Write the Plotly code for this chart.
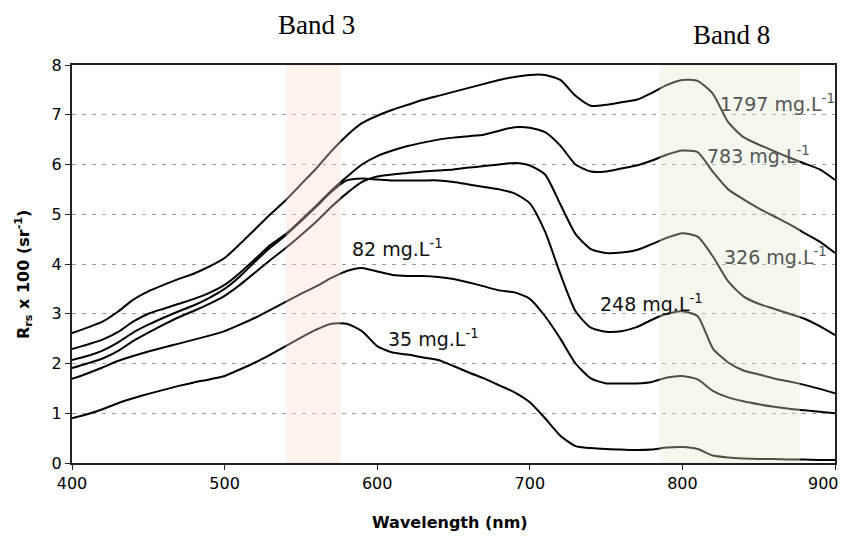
import plotly.graph_objects as go

wavelength = list(range(400, 901, 10))

c1797 = [2.61, 2.72, 2.84, 3.04, 3.28, 3.45, 3.58, 3.70, 3.81, 3.95,
         4.12, 4.40, 4.70, 5.00, 5.28, 5.60, 5.92, 6.27, 6.58, 6.83,
         6.98, 7.10, 7.20, 7.30, 7.38, 7.46, 7.54, 7.62, 7.70, 7.76,
         7.80, 7.80, 7.70, 7.38, 7.18, 7.20, 7.25, 7.30, 7.44, 7.60,
         7.70, 7.68, 7.42, 6.85, 6.55, 6.40, 6.27, 6.14, 6.02, 5.90, 5.69]
c783 = [2.29, 2.38, 2.48, 2.63, 2.84, 3.00, 3.10, 3.20, 3.30, 3.42,
        3.58, 3.82, 4.10, 4.38, 4.60, 4.88, 5.17, 5.48, 5.75, 6.00,
        6.17, 6.28, 6.37, 6.44, 6.50, 6.54, 6.57, 6.60, 6.68, 6.75,
        6.74, 6.65, 6.38, 6.00, 5.86, 5.86, 5.92, 5.98, 6.08, 6.20,
        6.28, 6.25, 5.85, 5.50, 5.30, 5.12, 4.96, 4.80, 4.62, 4.45, 4.22]
c326 = [1.91, 2.00, 2.10, 2.25, 2.45, 2.62, 2.78, 2.93, 3.06, 3.20,
        3.36, 3.58, 3.83, 4.08, 4.32, 4.58, 4.85, 5.15, 5.42, 5.65,
        5.76, 5.80, 5.83, 5.86, 5.88, 5.90, 5.94, 5.97, 6.00, 6.03,
        5.98, 5.80, 5.20, 4.60, 4.30, 4.22, 4.23, 4.28, 4.40, 4.53,
        4.62, 4.55, 4.15, 3.65, 3.35, 3.20, 3.10, 3.00, 2.90, 2.75, 2.57]
c248 = [2.07, 2.15, 2.26, 2.42, 2.62, 2.78, 2.92, 3.05, 3.17, 3.32,
        3.50, 3.75, 4.05, 4.33, 4.58, 4.86, 5.15, 5.45, 5.68, 5.72,
        5.70, 5.68, 5.68, 5.68, 5.68, 5.65, 5.60, 5.55, 5.50, 5.42,
        5.22, 4.65, 3.80, 3.05, 2.72, 2.64, 2.65, 2.73, 2.88, 3.00,
        3.05, 2.95, 2.30, 2.02, 1.86, 1.78, 1.70, 1.64, 1.57, 1.49, 1.40]
c82 = [1.69, 1.80, 1.92, 2.05, 2.15, 2.24, 2.32, 2.40, 2.48, 2.56,
       2.65, 2.78, 2.92, 3.08, 3.24, 3.40, 3.55, 3.72, 3.86, 3.92,
       3.85, 3.78, 3.76, 3.76, 3.74, 3.70, 3.63, 3.55, 3.47, 3.43,
       3.30, 2.95, 2.50, 2.00, 1.70, 1.60, 1.60, 1.60, 1.63, 1.72,
       1.75, 1.68, 1.45, 1.32, 1.24, 1.18, 1.13, 1.09, 1.06, 1.03, 1.00]
c35 = [0.90, 0.98, 1.08, 1.20, 1.30, 1.39, 1.47, 1.55, 1.62, 1.68,
       1.75, 1.88, 2.02, 2.18, 2.35, 2.52, 2.68, 2.80, 2.80, 2.65,
       2.35, 2.22, 2.18, 2.12, 2.07, 1.95, 1.82, 1.70, 1.56, 1.42,
       1.22, 0.90, 0.55, 0.34, 0.30, 0.28, 0.27, 0.26, 0.27, 0.31,
       0.32, 0.28, 0.15, 0.11, 0.09, 0.08, 0.08, 0.07, 0.07, 0.06, 0.06]

series = [c1797, c783, c326, c248, c82, c35]

x_tickvals = [400, 500, 600, 700, 800, 900]
x_ticktext = ["400", "500", "600", "700", "800", ""]   # last label drawn as annotation
last_tick_label = "900"

label_text = ["1797 mg.L<sup>-1</sup>", "783 mg.L<sup>-1</sup>", "326 mg.L<sup>-1</sup>",
              "248 mg.L<sup>-1</sup>", "82 mg.L<sup>-1</sup>", "35 mg.L<sup>-1</sup>"]
label_x = [823, 815, 826, 745, 582, 606]
label_y = [7.24, 6.19, 4.16, 3.22, 4.32, 2.51]
label_color = ["#555555", "#555555", "#555555", "#111111", "#111111", "#111111"]

band3 = [540, 576]
band8 = [785, 877]

# page has an 8px body margin on every side; keep the figure inside the window
OFF = 8
W, H = 850 - 2 * OFF, 540 - 2 * OFF
PX0, PX1, PY0, PY1 = 72, 835, 65, 463   # plot box in page pixels
ML, MR = PX0 - OFF, W - (PX1 - OFF)
MT, MB = PY0 - OFF, H - (PY1 - OFF)


def paper_x(px):
    return (px - PX0) / (PX1 - PX0)


def paper_y(py):
    return (PY1 - py) / (PY1 - PY0)


fig = go.Figure()
for ys in series:
    fig.add_trace(go.Scatter(x=wavelength, y=ys, mode="lines",
                             line=dict(color="black", width=2, shape="spline", smoothing=0.6),
                             showlegend=False, hoverinfo="skip"))

fig.add_shape(type="rect", xref="x", yref="y", x0=band3[0], x1=band3[1], y0=0, y1=8,
              fillcolor="rgb(249,221,206)", opacity=0.35, line=dict(width=0), layer="above")
fig.add_shape(type="rect", xref="x", yref="y", x0=band8[0], x1=band8[1], y0=0, y1=8,
              fillcolor="rgb(224,232,206)", opacity=0.35, line=dict(width=0), layer="above")

for t, x, y, c in zip(label_text, label_x, label_y, label_color):
    fig.add_annotation(x=x, y=y, xref="x", yref="y", text=t, showarrow=False,
                       xanchor="left", yanchor="middle",
                       font=dict(family="DejaVu Sans", size=19, color=c))

fig.add_annotation(x=paper_x(316), y=paper_y(25), xref="paper", yref="paper", text="Band 3",
                   showarrow=False, xanchor="center", yanchor="middle",
                   font=dict(family="Liberation Serif", size=27, color="black"))
fig.add_annotation(x=paper_x(731), y=paper_y(35), xref="paper", yref="paper", text="Band 8",
                   showarrow=False, xanchor="center", yanchor="middle",
                   font=dict(family="Liberation Serif", size=27, color="black"))

fig.add_annotation(x=paper_x(841), y=paper_y(483), xref="paper", yref="paper",
                   text=last_tick_label, showarrow=False,
                   xanchor="right", yanchor="middle",
                   font=dict(family="DejaVu Sans", size=16, color="black"))

fig.add_annotation(x=paper_x(450), y=paper_y(522), xref="paper", yref="paper",
                   text="<b>Wavelength (nm)</b>", showarrow=False,
                   xanchor="center", yanchor="middle",
                   font=dict(family="DejaVu Sans", size=16, color="black"))
fig.add_annotation(x=paper_x(23), y=paper_y(275), xref="paper", yref="paper",
                   text="<b>R<sub>rs</sub> x 100 (sr<sup>-1</sup>)</b>", showarrow=False,
                   textangle=-90, xanchor="center", yanchor="middle",
                   font=dict(family="DejaVu Sans", size=16, color="black"))

fig.update_layout(
    width=W, height=H,
    margin=dict(l=ML, r=MR, t=MT, b=MB, autoexpand=False),
    paper_bgcolor="white", plot_bgcolor="white",
    font=dict(family="DejaVu Sans", size=16, color="black"),
)
fig.update_xaxes(range=[400, 900], tickvals=x_tickvals, ticktext=x_ticktext,
                 showgrid=False, zeroline=False, automargin=False,
                 showline=True, linecolor="#222222", linewidth=2, mirror=True,
                 ticks="outside", ticklen=5, tickcolor="#222222",
                 tickfont=dict(size=16))
fig.update_yaxes(range=[0, 8], tickvals=list(range(0, 9)),
                 showgrid=True, gridcolor="#9a9a9a", gridwidth=1, griddash="4px,6px",
                 zeroline=False, automargin=False,
                 showline=True, linecolor="#222222", linewidth=2, mirror=True,
                 ticks="outside", ticklen=5, tickcolor="#222222",
                 tickfont=dict(size=16))

fig.write_html("out.html")
